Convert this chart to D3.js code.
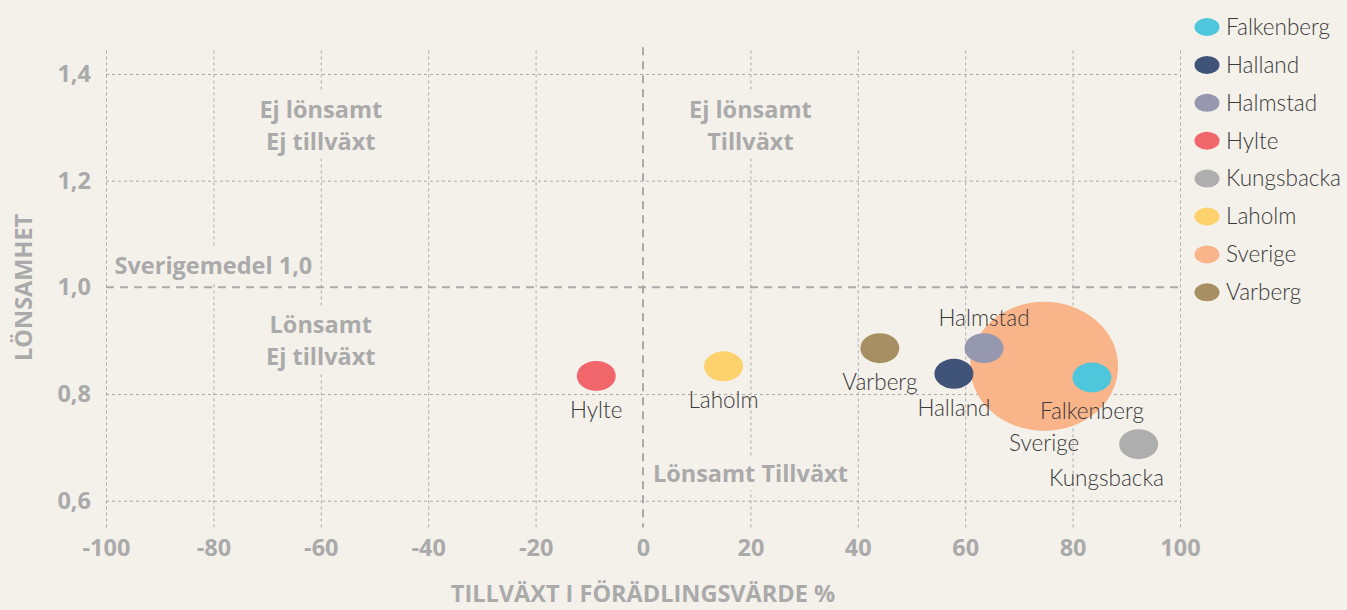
<!DOCTYPE html>
<html><head><meta charset="utf-8">
<script src="https://cdn.jsdelivr.net/npm/d3@7"></script>
<style>
html,body{margin:0;padding:0;background:#f4f1eb;}
svg{display:block;}
</style></head>
<body><svg id="chart" width="1347" height="610"></svg>
<script>
// ---- data ----
const names = ["Falkenberg","Halland","Halmstad","Hylte","Kungsbacka","Laholm","Sverige","Varberg"];
const growth = [83.6, 57.9, 63.5, -8.7, 92.3, 15.0, 74.7, 44.1];        // Tillväxt i förädlingsvärde %
const profitability = [0.831, 0.838, 0.886, 0.834, 0.706, 0.852, 0.852, 0.886]; // Lönsamhet
const bubbleSize = [1, 1, 1, 1, 1, 1, 18.5, 1];
const labelSide = ["below","below","above","below","below","below","below","below"];
const colors = ["#4ec6dc","#3f5478","#9598ae","#f0666b","#aeaeae","#fdd16b","#f9b48a","#a88f63"];
const xTicks = [-100,-80,-60,-40,-20,0,20,40,60,80,100];
const yTicks = [0.6,0.8,1.0,1.2,1.4];
const quadrantLines = [
  {lines:["Ej lönsamt","Ej tillväxt"], x:-60, y:1.302},
  {lines:["Ej lönsamt","Tillväxt"], x:20, y:1.302},
  {lines:["Sverigemedel 1,0"], x:-80, y:1.04},
  {lines:["Lönsamt","Ej tillväxt"], x:-60, y:0.90},
  {lines:["Lönsamt Tillväxt"], x:20, y:0.65}
];
const xTitle = "TILLVÄXT I FÖRÄDLINGSVÄRDE %";
const yTitle = "LÖNSAMHET";

// ---- layout ----
const svg = d3.select("#chart");
const grey = "#aaaaaa";
const x = d3.scaleLinear().domain([-100,100]).range([106,1180]);
const y = d3.scaleLinear().domain([0.55,1.45]).range([527.4,47.3]);
const r = d3.scaleSqrt().domain([0,1]).range([0,15]);
const fmtY = d => d.toFixed(1).replace(".", ",");
const FONT = "Lato, 'Open Sans', sans-serif";
const BFONT = "'Open Sans', Lato, sans-serif";
const BSIZE = 23.5;

svg.append("rect").attr("width",1347).attr("height",610).attr("fill","#f4f1eb");

// grid via axes
const gx = svg.append("g").attr("transform",`translate(0,${y.range()[0]})`)
  .call(d3.axisBottom(x).tickValues(xTicks).tickSize(-(y.range()[0]-y.range()[1])).tickPadding(7).tickFormat(d=>String(d)));
gx.select(".domain").remove();
gx.selectAll(".tick line").attr("stroke",grey).attr("stroke-width",1).attr("stroke-dasharray","3,3")
  .attr("opacity",d=>d===0?0:1);
gx.selectAll(".tick text").attr("fill",grey).attr("font-family",BFONT).attr("font-weight",700)
  .attr("font-size",BSIZE).attr("dy","0.9em");

const gy = svg.append("g").attr("transform",`translate(${x.range()[0]},0)`)
  .call(d3.axisLeft(y).tickValues(yTicks).tickSize(-(x.range()[1]-x.range()[0])).tickPadding(15).tickFormat(fmtY));
gy.select(".domain").remove();
gy.selectAll(".tick line").attr("stroke",grey).attr("stroke-width",1).attr("stroke-dasharray","3,3")
  .attr("opacity",d=>Math.abs(d-1)<1e-9?0:1);
gy.selectAll(".tick text").attr("fill",grey).attr("font-family",BFONT).attr("font-weight",700)
  .attr("font-size",BSIZE);

// quadrant labels with background boxes
const qg = svg.append("g");
quadrantLines.forEach(q=>{
  const g = qg.append("g");
  const lh = 32;
  const n = q.lines.length;
  const t = g.append("text").attr("text-anchor","middle").attr("font-family",BFONT)
    .attr("font-weight",700).attr("font-size",BSIZE).attr("fill",grey);
  q.lines.forEach((s,i)=>{
    t.append("tspan").attr("x",x(q.x)).attr("y",y(q.y)+(i-(n-1)/2)*lh).attr("dy","0.35em").text(s);
  });
  const bb = t.node().getBBox();
  g.insert("rect","text").attr("x",bb.x-4).attr("y",bb.y-1).attr("width",bb.width+8).attr("height",bb.height+2)
    .attr("fill","#f4f1eb");
});

// reference lines
svg.append("line").attr("x1",x(0)).attr("x2",x(0)).attr("y1",y.range()[1]).attr("y2",y.range()[0])
  .attr("stroke",grey).attr("stroke-width",2).attr("stroke-dasharray","8,6");
svg.append("line").attr("x1",x.range()[0]).attr("x2",x.range()[1]).attr("y1",y(1)).attr("y2",y(1))
  .attr("stroke",grey).attr("stroke-width",2).attr("stroke-dasharray","8,6");

// axis titles
svg.append("text").attr("x",643).attr("y",594).attr("dy","0.35em").attr("text-anchor","middle")
  .attr("font-family",BFONT).attr("font-weight",700).attr("font-size",BSIZE).attr("fill",grey).text(xTitle);
svg.append("text").attr("transform",`translate(24,${y(1)}) rotate(-90)`).attr("dy","0.35em").attr("text-anchor","middle")
  .attr("font-family",BFONT).attr("font-weight",700).attr("font-size",BSIZE).attr("fill",grey).text(yTitle);

// bubbles
const data = names.map((n,i)=>({name:n,x:growth[i],y:profitability[i],s:bubbleSize[i],side:labelSide[i],c:colors[i]}));
const order = data.slice().sort((a,b)=>b.s-a.s);
const ry = d => r(d.s);
const rx = d => r(d.s)*1.1+3;
svg.append("g").selectAll("ellipse").data(order).join("ellipse")
  .attr("cx",d=>x(d.x)).attr("cy",d=>y(d.y)).attr("rx",rx).attr("ry",ry).attr("fill",d=>d.c);

// bubble labels
const lg = svg.append("g");
data.forEach(d=>{
  const off = d.s>1 ? ry(d)+12 : ry(d)+19;
  const t = lg.append("text").attr("x",x(d.x)).attr("y",y(d.y)+(d.side==="above"?-off+4:off)).attr("dy","0.35em")
    .attr("text-anchor","middle").attr("font-family",FONT).attr("font-weight",300).attr("font-size",22.5)
    .attr("fill","#3a3a3a").text(d.name);
  const bb = t.node().getBBox();
  const limit = x.range()[1]-16;
  if (bb.x+bb.width>limit) t.attr("x", x(d.x)-(bb.x+bb.width-limit));
});

// legend
const leg = svg.append("g").attr("transform","translate(1207,27)");
const li = leg.selectAll("g").data(data).join("g").attr("transform",(d,i)=>`translate(0,${i*37.9})`);
li.append("ellipse").attr("rx",12.5).attr("ry",9).attr("fill",d=>d.c);
li.append("text").attr("x",19).attr("dy","0.35em").attr("font-family",FONT).attr("font-weight",300)
  .attr("font-size",22.5).attr("fill","#3a3a3a").text(d=>d.name);
</script></body></html>
